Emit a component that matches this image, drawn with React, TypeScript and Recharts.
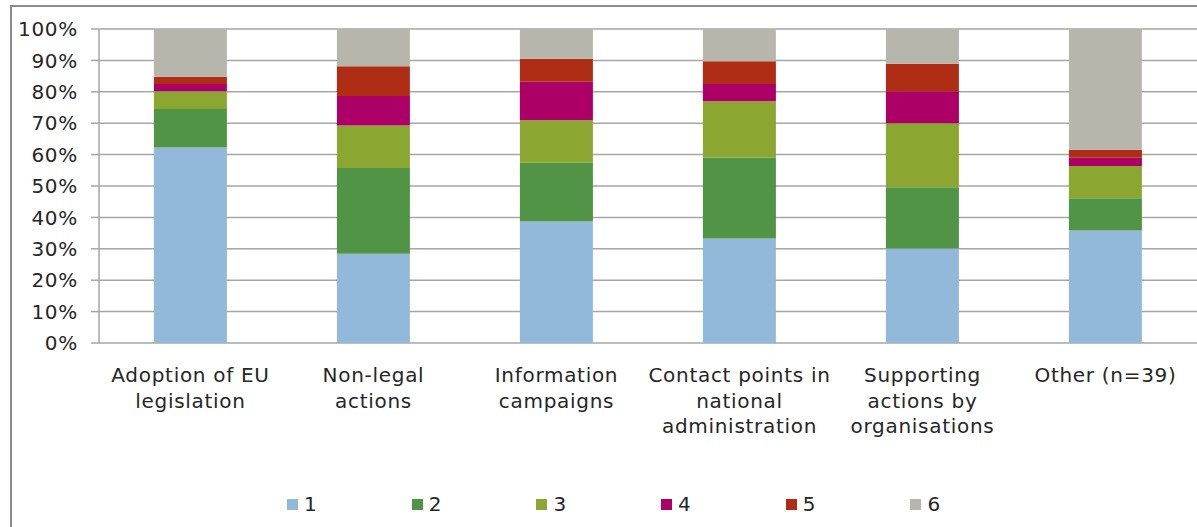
import React from "react";
import { BarChart, Bar, XAxis, YAxis, CartesianGrid, Legend } from "recharts";

const categories = [
  "Adoption of EU\nlegislation",
  "Non-legal\nactions",
  "Information\ncampaigns",
  "Contact points in\nnational\nadministration",
  "Supporting\nactions by\norganisations",
  "Other (n=39)",
];
const seriesNames = ["1", "2", "3", "4", "5", "6"];
const s1 = [62.3, 28.4, 38.7, 33.3, 30.1, 35.9];
const s2 = [12.2, 27.3, 18.7, 25.8, 19.5, 10.3];
const s3 = [5.7, 13.6, 13.5, 17.9, 20.4, 10.3];
const s4 = [2.3, 9.4, 12.3, 5.5, 10.2, 2.6];
const s5 = [2.3, 9.4, 7.3, 7.2, 8.7, 2.6];
const s6 = [15.2, 11.9, 9.5, 10.3, 11.1, 38.5];
const yTicks = [0, 0.1, 0.2, 0.3, 0.4, 0.5, 0.6, 0.7, 0.8, 0.9, 1];
const boundaryTicks = [0, 1, 2, 3, 4, 5, 6];

const seriesValues = [s1, s2, s3, s4, s5, s6];
const colors = ["#93B9DA", "#529446", "#8CA731", "#AC0066", "#B02D15", "#B7B6AD"];

const data = categories.map((name, i) => {
  const row: Record<string, any> = { name };
  seriesNames.forEach((s, k) => {
    row[s] = seriesValues[k][i];
  });
  return row;
});

const FONT = "DejaVu Sans, Verdana, sans-serif";
const TEXT = "#262626";
const GRID = "#a6a6a6";
const FS = 20;
const LS = 0.7;

const CatTick = (props: any) => {
  const { x, y, payload } = props;
  const lines = String(payload.value).split("\n");
  return (
    <text x={x} y={y} textAnchor="middle" fill={TEXT} fontSize={FS} fontFamily={FONT} letterSpacing={LS}>
      {lines.map((l, i) => (
        <tspan key={i} x={x} dy={i === 0 ? 39 : 25.5}>
          {l}
        </tspan>
      ))}
    </text>
  );
};

const EmptyTick = () => <g />;

const renderLegend = (props: any) => {
  const payload = props.payload || [];
  return (
    <div style={{ display: "flex", fontFamily: FONT, fontSize: FS, color: TEXT, letterSpacing: LS }}>
      {payload.map((p: any, i: number) => (
        <div key={i} style={{ width: 124.7, display: "flex", alignItems: "center", height: 24 }}>
          <span style={{ width: 11, height: 11, background: p.color, marginRight: 6, display: "inline-block" }} />
          <span>{p.value}</span>
        </div>
      ))}
    </div>
  );
};

export default function App() {
  return (
    <div style={{ position: "absolute", left: 0, top: 0, width: 1197, height: 527, overflow: "hidden", background: "#fff" }}>
      <div
        style={{
          position: "absolute",
          left: 10,
          top: 5,
          width: 1400,
          height: 700,
          borderLeft: "2px solid #8c8c8c",
          borderTop: "2px solid #8c8c8c",
        }}
      />
      <div style={{ position: "absolute", left: 0, top: 0 }}>
        <BarChart
          width={1197}
          height={527}
          data={data}
          stackOffset="expand"
          barCategoryGap="30%"
          margin={{ top: 29, right: 0, bottom: 65, left: 0 }}
        >
          <CartesianGrid horizontal vertical={false} stroke={GRID} strokeWidth={1.5} />
          <XAxis
            xAxisId="bounds"
            type="number"
            domain={[0, 6]}
            ticks={boundaryTicks}
            height={0}
            tick={EmptyTick}
            tickSize={7}
            tickLine={{ stroke: GRID, strokeWidth: 1.5 }}
            axisLine={{ stroke: GRID, strokeWidth: 1.5 }}
            allowDataOverflow
          />
          <XAxis
            dataKey="name"
            height={95}
            tickLine={false}
            axisLine={false}
            tickSize={0}
            tickMargin={0}
            tick={<CatTick />}
            interval={0}
          />
          <YAxis
            width={99}
            domain={[0, 1]}
            ticks={yTicks}
            tickFormatter={(v: number) => `${Math.round(v * 100)}%`}
            tickSize={8}
            tickMargin={13}
            tick={{ fill: TEXT, fontSize: FS, fontFamily: FONT, letterSpacing: LS }}
            tickLine={{ stroke: GRID, strokeWidth: 1.5 }}
            axisLine={{ stroke: GRID, strokeWidth: 1.5 }}
            interval={0}
          />
          <Legend
            verticalAlign="bottom"
            content={renderLegend}
            wrapperStyle={{ position: "absolute", left: 287, top: 492, width: 760, height: 24 }}
          />
          {seriesNames.map((s, k) => (
            <Bar key={s} dataKey={s} stackId="a" fill={colors[k]} isAnimationActive={false} />
          ))}
        </BarChart>
      </div>
    </div>
  );
}
